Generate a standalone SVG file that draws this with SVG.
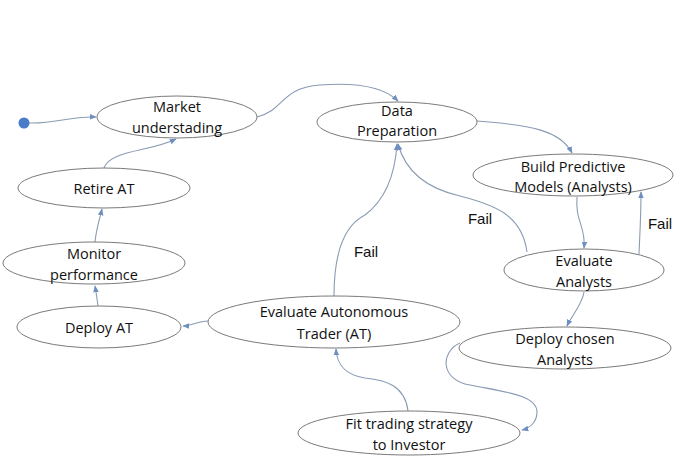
<svg xmlns="http://www.w3.org/2000/svg" width="681" height="465" viewBox="0 0 681 465">
<style>
.node ellipse{fill:#ffffff;stroke:#7a7a7a;stroke-width:1}
.node text{font-family:"Open Sans","Liberation Sans",sans-serif;font-size:14.5px;fill:#111111;text-anchor:middle}
.conn path{fill:none;stroke:#8a9bb4;stroke-width:1.1;marker-end:url(#ah)}
.lbl{font-family:"Liberation Sans",Arial,sans-serif;font-size:15px;fill:#111111;text-anchor:middle}
</style>
<defs>
<marker id="ah" viewBox="0 0 10 10" refX="9" refY="5" markerWidth="7" markerHeight="7" orient="auto" markerUnits="userSpaceOnUse">
<path d="M0,1 L10,5 L0,9 Z" fill="#6f8fc0"/>
</marker>
</defs>
<rect width="681" height="465" fill="#ffffff"/>
<g id="connectors" class="conn">
<path d="M29,123 C55,124 70,116 96,117"/>
<path d="M257,117 C285,110 280,88 320,85 C360,82 385,88 398,101"/>
<path d="M477,121 C530,125 560,130 572,153"/>
<path d="M577,197 C575,222 586,226 584,248"/>
<path d="M639,254 C640,230 641,215 641,192"/>
<path d="M527,252 C522,215 495,205 460,196 C425,188 405,170 398,144"/>
<path d="M334,296 C334,250 345,225 365,215 C385,200 395,175 397,144"/>
<path d="M208,321 C198,321 192,326 183,326"/>
<path d="M98,306 C97,298 96,292 95,286"/>
<path d="M95,242 C96,230 100,218 102,209"/>
<path d="M104,168 C110,150 150,152 176,139"/>
<path d="M584,292 C582,305 572,315 567,326"/>
<path d="M460,343 C440,352 440,380 470,385 C505,392 537,395 537,412 C537,422 530,428 522,430"/>
<path d="M408,411 C405,385 385,380 365,378 C345,375 337,365 336,349"/>
</g>
<circle id="start" cx="24" cy="123" r="5.5" fill="#4a7cc9"/>
<g id="market" class="node"><ellipse cx="177" cy="117" rx="80" ry="21"/><text x="177" y="112">Market</text><text x="177" y="133">understading</text></g>
<g id="dataprep" class="node"><ellipse cx="397" cy="122" rx="80" ry="20"/><text x="397" y="116">Data</text><text x="397" y="136">Preparation</text></g>
<g id="build" class="node"><ellipse cx="573" cy="175" rx="100" ry="21"/><text x="573" y="172">Build Predictive</text><text x="573" y="192">Models (Analysts)</text></g>
<g id="retire" class="node"><ellipse cx="104" cy="188" rx="86" ry="20"/><text x="104" y="194">Retire AT</text></g>
<g id="monitor" class="node"><ellipse cx="94" cy="263" rx="91" ry="21"/><text x="94" y="259">Monitor</text><text x="94" y="280">performance</text></g>
<g id="deployat" class="node"><ellipse cx="99" cy="327" rx="82" ry="21"/><text x="99" y="333">Deploy AT</text></g>
<g id="evalat" class="node"><ellipse cx="334" cy="322" rx="126" ry="26"/><text x="334" y="317">Evaluate Autonomous</text><text x="334" y="339">Trader (AT)</text></g>
<g id="evalan" class="node"><ellipse cx="584" cy="270" rx="80" ry="21"/><text x="584" y="266">Evaluate</text><text x="584" y="287">Analysts</text></g>
<g id="deployan" class="node"><ellipse cx="565" cy="348" rx="106" ry="21"/><text x="565" y="344">Deploy chosen</text><text x="565" y="365">Analysts</text></g>
<g id="fit" class="node"><ellipse cx="409" cy="433" rx="111" ry="22"/><text x="409" y="429">Fit trading strategy</text><text x="409" y="450">to Investor</text></g>
<text class="lbl" x="366" y="257">Fail</text>
<text class="lbl" x="480" y="224">Fail</text>
<text class="lbl" x="660" y="229">Fail</text>
</svg>
